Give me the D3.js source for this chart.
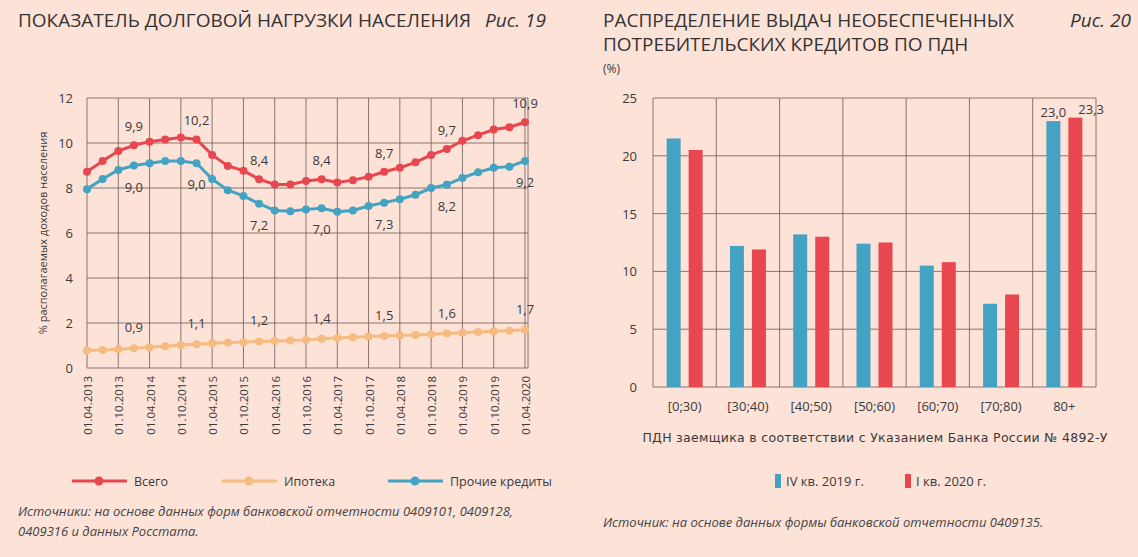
<!DOCTYPE html><html><head><meta charset="utf-8">
<script src="https://cdn.jsdelivr.net/npm/d3@7"></script>
<style>body{margin:0;background:#fde2d8;font-family:"Open Sans",sans-serif}</style></head><body>
<svg id="c" width="1138" height="557"></svg>
<script>
const dates=["01.04.2013","01.10.2013","01.04.2014","01.10.2014","01.04.2015","01.10.2015","01.04.2016","01.10.2016","01.04.2017","01.10.2017","01.04.2018","01.10.2018","01.04.2019","01.10.2019","01.04.2020"];
const total=[8.72,9.2,9.64,9.9,10.06,10.16,10.24,10.16,9.47,8.98,8.77,8.39,8.16,8.16,8.31,8.39,8.25,8.35,8.5,8.72,8.9,9.14,9.47,9.73,10.1,10.35,10.6,10.7,10.92];
const mortgage=[0.78,0.8,0.83,0.88,0.92,0.97,1.02,1.06,1.1,1.13,1.15,1.18,1.2,1.22,1.25,1.3,1.33,1.37,1.4,1.42,1.45,1.47,1.5,1.53,1.57,1.6,1.63,1.66,1.7];
const other=[7.95,8.4,8.8,9.0,9.1,9.2,9.2,9.1,8.4,7.9,7.65,7.3,7.0,6.97,7.05,7.1,6.95,7.0,7.2,7.35,7.5,7.7,8.0,8.15,8.45,8.7,8.9,8.95,9.2];
const labelIdx=[3,7,11,15,19,23,28];
const totalLbl=["9,9","10,2","8,4","8,4","8,7","9,7","10,9"];
const otherLbl=["9,0","9,0","7,2","7,0","7,3","8,2","9,2"];
const mortLbl=["0,9","1,1","1,2","1,4","1,5","1,6","1,7"];
const bins=["[0;30)","[30;40)","[40;50)","[50;60)","[60;70)","[70;80)","80+"];
const q4_2019=[21.5,12.2,13.2,12.4,10.5,7.2,23.0];
const q1_2020=[20.5,11.9,13.0,12.5,10.8,8.0,23.3];
const RED="#e8474f",BLUE="#44a3c3",ORANGE="#f6bb7e",GRID="#6b5a55",TXT="#3a3a3a";
const svg=d3.select("#c");
const x=d3.scaleLinear().domain([0,28]).range([87,525]);
const y=d3.scaleLinear().domain([0,12]).range([368,98]);
const L=svg.append("g");
L.selectAll(".hg").data(d3.range(0,13,2)).join("line").attr("x1",87).attr("x2",528).attr("y1",d=>y(d)).attr("y2",d=>y(d)).attr("stroke",GRID).attr("stroke-width",0.8);
L.selectAll(".vg").data(dates).join("line").attr("x1",(d,i)=>x(i*2)).attr("x2",(d,i)=>x(i*2)).attr("y1",98).attr("y2",368).attr("stroke",GRID).attr("stroke-width",0.8);
L.append("line").attr("x1",528).attr("x2",528).attr("y1",98).attr("y2",368).attr("stroke",GRID).attr("stroke-width",0.8);
L.selectAll(".yl").data(d3.range(0,13,2)).join("text").attr("x",73).attr("y",d=>y(d)+5).attr("text-anchor","end").attr("font-size",13).attr("fill",TXT).text(d=>d);
L.selectAll(".xl").data(dates).join("text").attr("transform",(d,i)=>`translate(${x(i*2)+5},376) rotate(-90)`).attr("text-anchor","end").attr("font-size",11.5).attr("fill",TXT).text(d=>d);
L.append("text").attr("transform","translate(47,233) rotate(-90)").attr("text-anchor","middle").attr("font-size",11).attr("fill",TXT).text("% располагаемых доходов населения");
function series(data,col){
 L.append("path").datum(data).attr("d",d3.line().x((d,i)=>x(i)).y(d=>y(d))).attr("fill","none").attr("stroke",col).attr("stroke-width",3);
 L.append("g").selectAll("circle").data(data).join("circle").attr("cx",(d,i)=>x(i)).attr("cy",d=>y(d)).attr("r",4).attr("fill",col);
}
series(mortgage,ORANGE);series(other,BLUE);series(total,RED);
function lbls(vals,arr,dy){L.append("g").selectAll("text").data(labelIdx).join("text").attr("x",d=>x(d)).attr("y",(d,i)=>y(arr[d])+dy).attr("text-anchor","middle").attr("font-size",13).attr("fill",TXT).text((d,i)=>vals[i]);}
lbls(totalLbl,total,-14);lbls(otherLbl,other,26);lbls(mortLbl,mortgage,-16);
svg.append("text").attr("x",18).attr("y",27).attr("font-size",19).attr("fill","#333").text("ПОКАЗАТЕЛЬ ДОЛГОВОЙ НАГРУЗКИ НАСЕЛЕНИЯ");
svg.append("text").attr("x",485).attr("y",27).attr("font-size",19).attr("font-style","italic").attr("fill","#333").text("Рис. 19");
const leg=[["Всего",RED,72],["Ипотека",ORANGE,222],["Прочие кредиты",BLUE,388]];
leg.forEach(([t,c,lx])=>{svg.append("line").attr("x1",lx).attr("x2",lx+55).attr("y1",481).attr("y2",481).attr("stroke",c).attr("stroke-width",3);
svg.append("circle").attr("cx",lx+27).attr("cy",481).attr("r",4.5).attr("fill",c);
svg.append("text").attr("x",lx+62).attr("y",486).attr("font-size",12.5).attr("fill",TXT).text(t);});
svg.append("text").attr("x",18).attr("y",516).attr("font-size",13).attr("font-style","italic").attr("fill","#444").text("Источники: на основе данных форм банковской отчетности 0409101, 0409128,");
svg.append("text").attr("x",18).attr("y",536).attr("font-size",13).attr("font-style","italic").attr("fill","#444").text("0409316 и данных Росстата.");
const xb=d3.scaleBand().domain(bins).range([653,1096]);
const yb=d3.scaleLinear().domain([0,25]).range([387,98]);
const R=svg.append("g");
R.selectAll(".hg").data(d3.range(0,26,5)).join("line").attr("x1",653).attr("x2",1096).attr("y1",d=>yb(d)).attr("y2",d=>yb(d)).attr("stroke",GRID).attr("stroke-width",0.8);
R.selectAll(".vg").data(d3.range(8)).join("line").attr("x1",d=>653+d*xb.step()).attr("x2",d=>653+d*xb.step()).attr("y1",98).attr("y2",387).attr("stroke",GRID).attr("stroke-width",0.8);
R.selectAll(".yl").data(d3.range(0,26,5)).join("text").attr("x",637).attr("y",d=>yb(d)+5).attr("text-anchor","end").attr("font-size",13).attr("fill",TXT).text(d=>d);
R.selectAll(".xl").data(bins).join("text").attr("x",d=>xb(d)+xb.bandwidth()/2).attr("y",411).attr("text-anchor","middle").attr("font-size",13).attr("fill",TXT).text(d=>d);
const bw=14;
R.selectAll(".b1").data(q4_2019).join("rect").attr("x",(d,i)=>xb(bins[i])+xb.bandwidth()/2-bw-4).attr("width",bw).attr("y",d=>yb(d)).attr("height",d=>387-yb(d)).attr("fill",BLUE);
R.selectAll(".b2").data(q1_2020).join("rect").attr("x",(d,i)=>xb(bins[i])+xb.bandwidth()/2+4).attr("width",bw).attr("y",d=>yb(d)).attr("height",d=>387-yb(d)).attr("fill",RED);
R.append("text").attr("x",xb("80+")+xb.bandwidth()/2-11).attr("y",yb(23.0)-4).attr("text-anchor","middle").attr("font-size",13).attr("fill",TXT).text("23,0");
R.append("text").attr("x",xb("80+")+xb.bandwidth()/2+14).attr("y",yb(23.3)-4).attr("text-anchor","start").attr("font-size",13).attr("fill",TXT).text("23,3");
svg.append("text").attr("x",603).attr("y",27).attr("font-size",19).attr("fill","#333").text("РАСПРЕДЕЛЕНИЕ ВЫДАЧ НЕОБЕСПЕЧЕННЫХ");
svg.append("text").attr("x",603).attr("y",51).attr("font-size",19).attr("fill","#333").text("ПОТРЕБИТЕЛЬСКИХ КРЕДИТОВ ПО ПДН");
svg.append("text").attr("x",1070).attr("y",27).attr("font-size",19).attr("font-style","italic").attr("fill","#333").text("Рис. 20");
svg.append("text").attr("x",603).attr("y",73).attr("font-size",12).attr("fill",TXT).text("(%)");
svg.append("text").attr("x",875).attr("y",442).attr("text-anchor","middle").attr("font-size",12.5).attr("fill",TXT).attr("font-family","DejaVu Sans").attr("letter-spacing",0.3).text("ПДН заемщика в соответствии с Указанием Банка России № 4892-У");
[["IV кв. 2019 г.",BLUE,775],["I кв. 2020 г.",RED,905]].forEach(([t,c,lx])=>{svg.append("rect").attr("x",lx).attr("y",474).attr("width",6).attr("height",14).attr("fill",c);
svg.append("text").attr("x",lx+11).attr("y",486).attr("font-size",13).attr("fill",TXT).text(t);});
svg.append("text").attr("x",603).attr("y",527).attr("font-size",13).attr("font-style","italic").attr("fill","#444").text("Источник: на основе данных формы банковской отчетности 0409135.");
</script></body></html>
